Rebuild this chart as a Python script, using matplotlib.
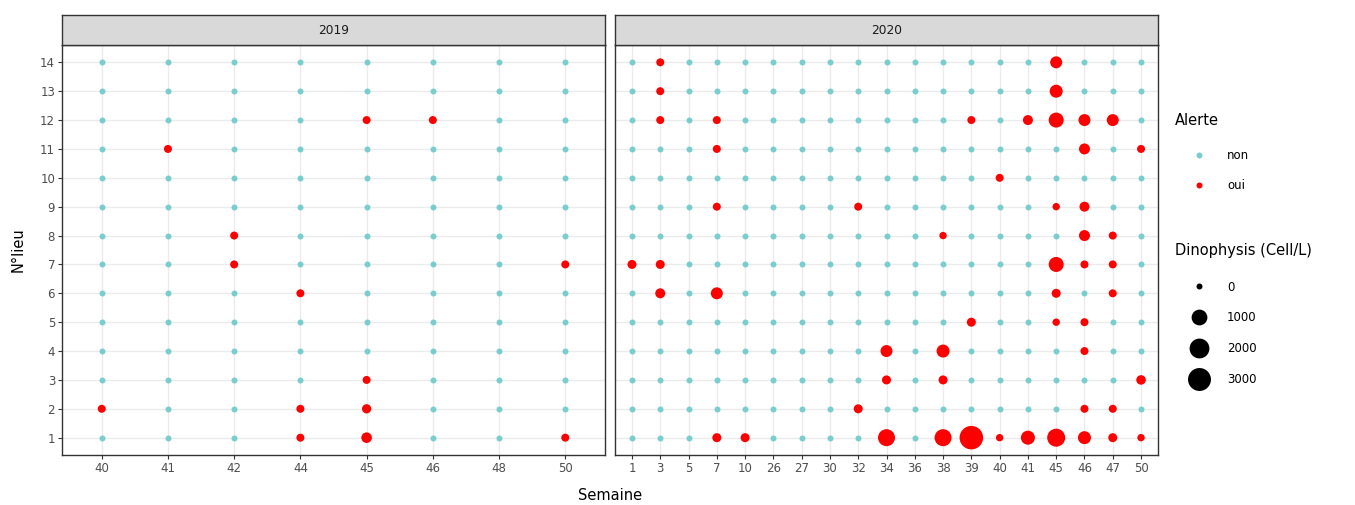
import numpy as np
import matplotlib.pyplot as plt
from matplotlib.lines import Line2D

# semaines échantillonnées par année
weeks_2019 = [40, 41, 42, 44, 45, 46, 48, 50]
weeks_2020 = [1, 3, 5, 7, 10, 26, 27, 30, 32, 34, 36, 38, 39, 40, 41, 45, 46, 47, 50]
lieux = list(range(1, 15))

# alertes (semaine, lieu, Dinophysis en cell/L)
alert_2019_week = [45, 46, 41, 42, 42, 50, 44, 45, 40, 44, 45, 44, 45, 50]
alert_2019_lieu = [12, 12, 11, 8, 7, 7, 6, 3, 2, 2, 2, 1, 1, 1]
alert_2019_cells = [42, 42, 42, 42, 42, 42, 42, 42, 42, 42, 110, 42, 220, 42]

alert_2020_week = [3, 45,
                   3, 45,
                   3, 7, 39, 41, 45, 46, 47,
                   7, 46, 50,
                   40,
                   7, 32, 45, 46,
                   38, 46, 47,
                   1, 3, 45, 46, 47,
                   3, 7, 45, 47,
                   39, 45, 46,
                   34, 38, 46,
                   34, 38, 50,
                   32, 46, 47,
                   7, 10, 34, 38, 39, 40, 41, 45, 46, 47, 50]
alert_2020_lieu = [14, 14,
                   13, 13,
                   12, 12, 12, 12, 12, 12, 12,
                   11, 11, 11,
                   10,
                   9, 9, 9, 9,
                   8, 8, 8,
                   7, 7, 7, 7, 7,
                   6, 6, 6, 6,
                   5, 5, 5,
                   4, 4, 4,
                   3, 3, 3,
                   2, 2, 2,
                   1, 1, 1, 1, 1, 1, 1, 1, 1, 1, 1]
alert_2020_cells = [42, 374,
                    42, 512,
                    42, 42, 42, 166, 846, 374, 374,
                    42, 261, 42,
                    42,
                    42, 42, 20, 166,
                    20, 261, 42,
                    94, 94, 846, 42, 42,
                    166, 374, 94, 42,
                    94, 20, 42,
                    374, 512, 42,
                    94, 94, 130,
                    94, 42, 42,
                    94, 94, 1264, 1264, 3200, 20, 670, 1505, 512, 94, 20]

size_breaks = [0, 1000, 2000, 3000]

col_non = "#79CDCD"
col_oui = "#FF0000"
vmax = max(alert_2020_cells + alert_2019_cells)


def diam(v):
    # diamètre du point (pt) selon une échelle en aire
    size = 1 + 5 * np.sqrt(np.asarray(v, dtype=float) / vmax)
    px = 2.5 + 3.5 * size
    return px * 0.72


W, H = 1355, 505
fig = plt.figure(figsize=(W / 100, H / 100), dpi=100)


def px_box(x0, y0, x1, y1):
    return [x0 / W, 1 - y1 / H, (x1 - x0) / W, (y1 - y0) / H]


panels = [
    ("2019", weeks_2019, alert_2019_week, alert_2019_lieu, alert_2019_cells, 62, 605),
    ("2020", weeks_2020, alert_2020_week, alert_2020_lieu, alert_2020_cells, 615, 1158),
]

for i, (year, weeks, aw, al, ac, x0, x1) in enumerate(panels):
    ax = fig.add_axes(px_box(x0, 45, x1, 455))
    pos = {w: k for k, w in enumerate(weeks)}
    alerts = {(w, l): c for w, l, c in zip(aw, al, ac)}

    non_x, non_y = [], []
    for w in weeks:
        for l in lieux:
            if (w, l) not in alerts:
                non_x.append(pos[w])
                non_y.append(l - 1)
    ax.scatter(non_x, non_y, s=diam(0) ** 2, color=col_non, linewidths=0, zorder=3)
    ax.scatter([pos[w] for w in aw], [l - 1 for l in al], s=diam(ac) ** 2,
               color=col_oui, linewidths=0, zorder=4)

    ax.set_xlim(-0.6, len(weeks) - 0.4)
    ax.set_ylim(-0.6, len(lieux) - 0.4)
    ax.set_xticks(range(len(weeks)))
    ax.set_xticklabels([str(w) for w in weeks])
    ax.set_yticks(range(len(lieux)))
    ax.set_yticklabels([str(l) for l in lieux])
    if i > 0:
        ax.tick_params(axis="y", left=False, labelleft=False)
    ax.grid(True, color="#EBEBEB", linewidth=1.0, zorder=0)
    ax.set_axisbelow(True)
    ax.tick_params(length=3, width=0.8, color="#333333", labelcolor="#4D4D4D",
                   labelsize=8.5, pad=2)
    for sp in ax.spines.values():
        sp.set_color("#333333")
        sp.set_linewidth(1.0)

    strip = fig.add_axes(px_box(x0, 15, x1, 45))
    strip.set_facecolor("#D9D9D9")
    strip.set_xticks([])
    strip.set_yticks([])
    for sp in strip.spines.values():
        sp.set_color("#333333")
        sp.set_linewidth(1.0)
    strip.text(0.5, 0.5, year, ha="center", va="center", fontsize=8.8,
               color="#1A1A1A", transform=strip.transAxes)

fig.text(610 / W, 1 - 495 / H, "Semaine", ha="center", va="center", fontsize=10.5)
fig.text(18 / W, 1 - 250 / H, "N°lieu", ha="center", va="center", rotation=90,
         fontsize=10.5)

# légendes
h_alert = [Line2D([], [], ls="", marker="o", markersize=diam(0), markeredgewidth=0,
                  color=c) for c in (col_non, col_oui)]
leg1 = fig.legend(h_alert, ["non", "oui"], title="Alerte", loc="upper left",
                  bbox_to_anchor=(1164 / W, 1 - 102 / H), frameon=False,
                  fontsize=8.5, title_fontsize=10.5, alignment="left",
                  handlelength=4.2, handletextpad=0.25, labelspacing=1.42)
leg1._legend_box.sep = 15.5

h_size = [Line2D([], [], ls="", marker="o", markersize=diam(b), markeredgewidth=0,
                 color="black") for b in size_breaks]
leg2 = fig.legend(h_size, [str(b) for b in size_breaks], title="Dinophysis (Cell/L)",
                  loc="upper left", bbox_to_anchor=(1164 / W, 1 - 232 / H),
                  frameon=False, fontsize=8.5, title_fontsize=10.5,
                  alignment="left", handlelength=4.2, handletextpad=0.25,
                  labelspacing=1.5)
leg2._legend_box.sep = 16.5

fig.savefig("out.png", dpi=100)
